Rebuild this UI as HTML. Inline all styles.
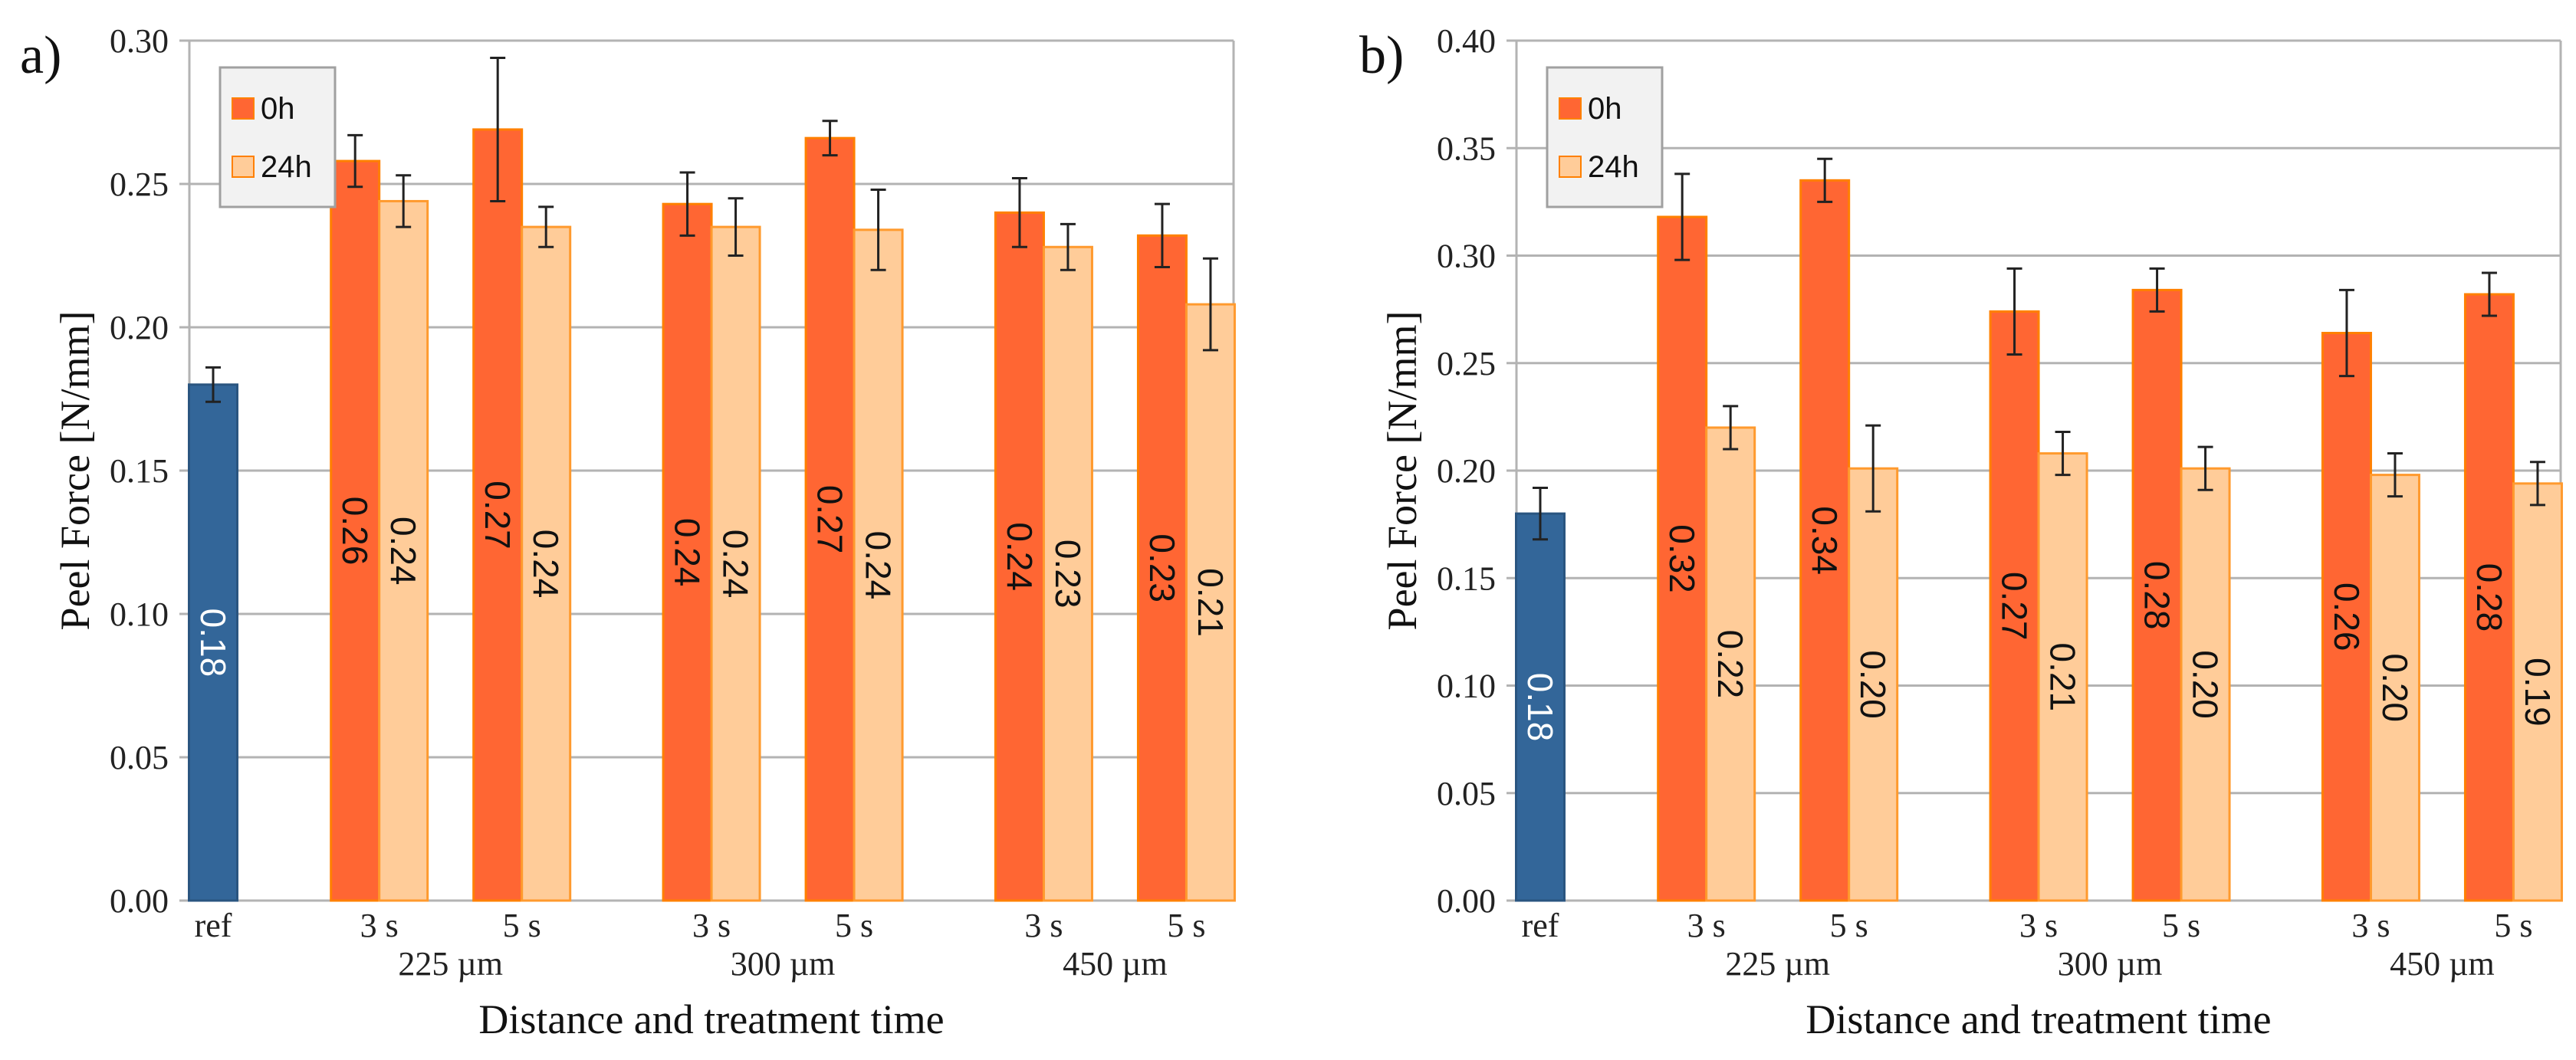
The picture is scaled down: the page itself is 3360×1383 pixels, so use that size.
<!DOCTYPE html>
<html><head><meta charset="utf-8"><style>
html,body{margin:0;padding:0;background:#fff;}
svg{display:block;}
</style></head><body>
<svg id="fig" width="3360" height="1383" viewBox="0 0 3360 1383" xmlns="http://www.w3.org/2000/svg"></svg>
<script>
// ---- data ----
const categories = ['ref','3 s','5 s','3 s','5 s','3 s','5 s'];
const groupLabels = ['225 µm','300 µm','450 µm'];
const refA = [0.180]; const refErrA = [0.006];
const h0A = [0.258,0.269,0.243,0.266,0.240,0.232];
const h0ErrA = [0.009,0.025,0.011,0.006,0.012,0.011];
const h24A = [0.244,0.235,0.235,0.234,0.228,0.208];
const h24ErrA = [0.009,0.007,0.010,0.014,0.008,0.016];
const refLblA = ['0.18'];
const h0LblA = ['0.26','0.27','0.24','0.27','0.24','0.23'];
const h24LblA = ['0.24','0.24','0.24','0.24','0.23','0.21'];
const refB = [0.180]; const refErrB = [0.012];
const h0B = [0.318,0.335,0.274,0.284,0.264,0.282];
const h0ErrB = [0.020,0.010,0.020,0.010,0.020,0.010];
const h24B = [0.220,0.201,0.208,0.201,0.198,0.194];
const h24ErrB = [0.010,0.020,0.010,0.010,0.010,0.010];
const refLblB = ['0.18'];
const h0LblB = ['0.32','0.34','0.27','0.28','0.26','0.28'];
const h24LblB = ['0.22','0.20','0.21','0.20','0.20','0.19'];
const ticksA = [0,0.05,0.10,0.15,0.20,0.25,0.30];
const ticksB = [0,0.05,0.10,0.15,0.20,0.25,0.30,0.35,0.40];

const NS='http://www.w3.org/2000/svg';
const svg=document.getElementById('fig');
function mk(tag,attrs,parent,text){const e=document.createElementNS(NS,tag);for(const k in attrs)e.setAttribute(k,attrs[k]);if(text!==undefined)e.textContent=text;(parent||svg).appendChild(e);return e;}

function panel(off,letter,yMax,ticks,ref,refErr,h0,h0Err,h24,h24Err,refLbl,h0Lbl,h24Lbl){
  const g=mk('g',{});
  
  
  const L=247+off,R=1609+off,T=53,B=1175;
  const y=v=>B-(v/yMax)*(B-T);
  const u=186, x0=278+off, bw=63;
  const xc=(i)=>{const grp=i===0?0:Math.ceil(i/2);return x0+u*(i+0.33*grp-(grp>0?0.165:0));};
  ticks.forEach(t=>{
    const ln=mk('line',{x1:L-13,x2:R,y1:y(t),y2:y(t),stroke:'#b3b3b3','stroke-width':3},g);
    
    
    const tx=mk('text',{x:L-27,y:y(t)+15,'text-anchor':'end','font-family':'Liberation Serif, serif','font-size':44,fill:'#222'},g,t.toFixed(2));
    
    
  });
  const fr=mk('line',{x1:L,x2:L,y1:T,y2:B,stroke:'#b3b3b3','stroke-width':3},g);
  
  
  const fr2=mk('line',{x1:R,x2:R,y1:T,y2:B,stroke:'#b3b3b3','stroke-width':3},g);
  
  
  function bar(cx,v,err,fill,stroke,lbl,lblColor,name){
    const r=mk('rect',{x:cx,y:y(v),width:bw,height:B-y(v),fill:fill,stroke:stroke,'stroke-width':3},g);
    
    
    const ex=cx+bw/2;
    const e=mk('path',{d:`M${ex},${y(v+err)}V${y(v-err)}M${ex-10},${y(v+err)}H${ex+10}M${ex-10},${y(v-err)}H${ex+10}`,stroke:'#222','stroke-width':3,fill:'none'},g);
    
    
    const my=(y(v)+B)/2;
    const t=mk('text',{x:0,y:0,transform:`translate(${ex-16},${my}) rotate(90)`,'text-anchor':'middle','font-family':'Liberation Sans, sans-serif','font-size':46,fill:lblColor},g,lbl);
    
    
  }
  bar(xc(0)-bw/2,ref[0],refErr[0],'#336699','#2a5580',refLbl[0],'#fff','bar-ref');
  for(let i=0;i<h0.length;i++){
    const c=xc(i+1);
    bar(c-bw,h0[i],h0Err[i],'#ff6633','#ff8000',h0Lbl[i],'#111','bar-0h');
    bar(c,h24[i],h24Err[i],'#ffcc99','#ff9a2e',h24Lbl[i],'#111','bar-24h');
  }
  categories.forEach((c,i)=>{
    const t=mk('text',{x:xc(i),y:1222,'text-anchor':'middle','font-family':'Liberation Serif, serif','font-size':44,fill:'#222'},g,c);
    
    
  });
  groupLabels.forEach((gl,k)=>{
    const t=mk('text',{x:(xc(2*k+1)+xc(2*k+2))/2,y:1272,'text-anchor':'middle','font-family':'Liberation Serif, serif','font-size':44,fill:'#222'},g,gl);
    
    
  });
  const xt=mk('text',{x:(L+R)/2,y:1348,'text-anchor':'middle','font-family':'Liberation Serif, serif','font-size':54,fill:'#111'},g,'Distance and treatment time');
  
  
  const yt=mk('text',{x:0,y:0,transform:`translate(${off+116},614) rotate(-90)`,'text-anchor':'middle','font-family':'Liberation Serif, serif','font-size':54,fill:'#111'},g,'Peel Force [N/mm]');
  
  
  const pl=mk('text',{x:letter==='a'?26:1773,y:95,'font-family':'Liberation Serif, serif','font-size':70,fill:'#111'},g,letter+')');
  
  
  const lg=mk('g',{},g);
  
  
  const lx=287+off;
  mk('rect',{x:lx,y:88,width:150,height:182,fill:'#f2f2f2',stroke:'#a0a0a0','stroke-width':3},lg);
  const s1=mk('rect',{x:lx+16,y:128,width:28,height:27,fill:'#ff6633',stroke:'#ff8000','stroke-width':2},lg);
  
  
  const t1=mk('text',{x:lx+53,y:155,'font-family':'Liberation Sans, sans-serif','font-size':40,fill:'#111'},lg,'0h');
  
  
  const s2=mk('rect',{x:lx+16,y:204,width:28,height:27,fill:'#ffcc99',stroke:'#ff8000','stroke-width':2},lg);
  
  
  const t2=mk('text',{x:lx+53,y:231,'font-family':'Liberation Sans, sans-serif','font-size':40,fill:'#111'},lg,'24h');
  
  
}
panel(0,'a',0.30,ticksA,refA,refErrA,h0A,h0ErrA,h24A,h24ErrA,refLblA,h0LblA,h24LblA);
panel(1731,'b',0.40,ticksB,refB,refErrB,h0B,h0ErrB,h24B,h24ErrB,refLblB,h0LblB,h24LblB);
</script>
</body></html>
